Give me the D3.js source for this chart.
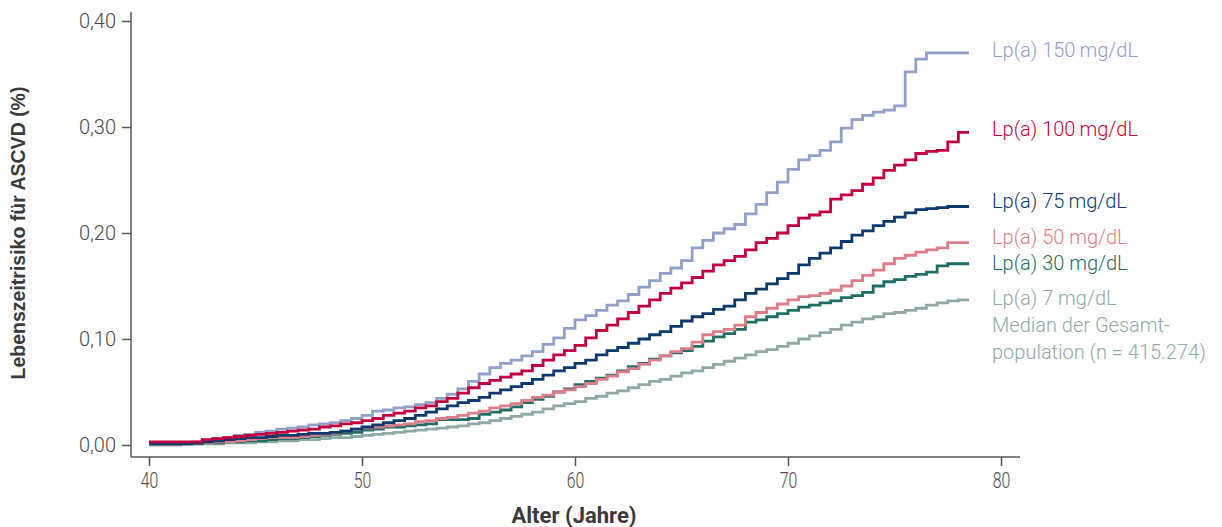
<!DOCTYPE html>
<html>
<head>
<meta charset="utf-8">
<script src="https://cdn.jsdelivr.net/npm/d3@7"></script>
<style>
	body { margin: 0; background: #fff; }
	.tick text { font-family: Roboto, sans-serif; font-weight: 300; fill: #4a4a4a; }
	.series_label { font-family: Roboto, sans-serif; font-weight: 300; font-size: 20px; }
</style>
</head>
<body>
<div id="chart"></div>
<script>
// ages (years), one value every half year
var ages = [
	40, 40.5, 41, 41.5, 42, 42.5, 43, 43.5, 44, 44.5, 45, 45.5, 46, 46.5, 47, 47.5, 48, 48.5, 49, 49.5,
	50, 50.5, 51, 51.5, 52, 52.5, 53, 53.5, 54, 54.5, 55, 55.5, 56, 56.5, 57, 57.5, 58, 58.5, 59, 59.5,
	60, 60.5, 61, 61.5, 62, 62.5, 63, 63.5, 64, 64.5, 65, 65.5, 66, 66.5, 67, 67.5, 68, 68.5, 69, 69.5,
	70, 70.5, 71, 71.5, 72, 72.5, 73, 73.5, 74, 74.5, 75, 75.5, 76, 76.5, 77, 77.5, 78, 78.5
];

// lifetime risk per Lp(a) level
var risk150 = [
	0.002, 0.002, 0.002, 0.002, 0.003, 0.004, 0.006, 0.007, 0.009, 0.010, 0.012, 0.013, 0.015, 0.016, 0.017, 0.019, 0.020, 0.021, 0.023, 0.025,
	0.028, 0.032, 0.033, 0.035, 0.036, 0.038, 0.040, 0.044, 0.048, 0.053, 0.060, 0.067, 0.073, 0.077, 0.080, 0.084, 0.088, 0.095, 0.101, 0.110,
	0.118, 0.122, 0.127, 0.132, 0.136, 0.142, 0.149, 0.155, 0.162, 0.167, 0.174, 0.186, 0.193, 0.200, 0.204, 0.208, 0.218, 0.227, 0.238, 0.248,
	0.260, 0.269, 0.273, 0.278, 0.286, 0.299, 0.307, 0.311, 0.314, 0.316, 0.320, 0.352, 0.364, 0.370, 0.370, 0.370, 0.370, 0.370
];
var risk100 = [
	0.003, 0.003, 0.003, 0.003, 0.003, 0.005, 0.006, 0.007, 0.008, 0.009, 0.010, 0.011, 0.012, 0.013, 0.014, 0.015, 0.017, 0.018, 0.020, 0.021,
	0.023, 0.025, 0.028, 0.030, 0.032, 0.035, 0.037, 0.041, 0.044, 0.049, 0.054, 0.058, 0.061, 0.064, 0.067, 0.070, 0.075, 0.080, 0.085, 0.089,
	0.094, 0.101, 0.108, 0.113, 0.119, 0.125, 0.131, 0.137, 0.143, 0.148, 0.153, 0.158, 0.164, 0.170, 0.174, 0.178, 0.184, 0.191, 0.195, 0.200,
	0.207, 0.214, 0.217, 0.220, 0.232, 0.236, 0.240, 0.246, 0.252, 0.259, 0.264, 0.269, 0.275, 0.277, 0.278, 0.286, 0.295, 0.295
];
var risk75 = [
	0.001, 0.001, 0.001, 0.001, 0.002, 0.003, 0.004, 0.005, 0.006, 0.007, 0.007, 0.008, 0.009, 0.009, 0.010, 0.011, 0.011, 0.012, 0.013, 0.015,
	0.017, 0.019, 0.021, 0.023, 0.025, 0.028, 0.031, 0.034, 0.037, 0.040, 0.042, 0.045, 0.049, 0.052, 0.055, 0.058, 0.062, 0.066, 0.070, 0.073,
	0.077, 0.080, 0.085, 0.089, 0.092, 0.096, 0.100, 0.104, 0.107, 0.112, 0.117, 0.121, 0.124, 0.128, 0.131, 0.137, 0.143, 0.147, 0.152, 0.157,
	0.162, 0.170, 0.176, 0.181, 0.186, 0.192, 0.198, 0.202, 0.207, 0.211, 0.215, 0.219, 0.222, 0.223, 0.224, 0.225, 0.225, 0.225
];
var risk50 = [
	0.001, 0.001, 0.001, 0.001, 0.002, 0.002, 0.003, 0.003, 0.004, 0.005, 0.006, 0.007, 0.007, 0.007, 0.008, 0.009, 0.010, 0.011, 0.013, 0.015,
	0.016, 0.017, 0.018, 0.019, 0.020, 0.022, 0.023, 0.025, 0.026, 0.028, 0.030, 0.032, 0.035, 0.037, 0.039, 0.042, 0.045, 0.047, 0.050, 0.052,
	0.055, 0.058, 0.062, 0.065, 0.069, 0.072, 0.076, 0.080, 0.084, 0.088, 0.091, 0.097, 0.104, 0.107, 0.109, 0.113, 0.121, 0.125, 0.129, 0.133,
	0.137, 0.140, 0.141, 0.143, 0.146, 0.150, 0.155, 0.160, 0.165, 0.171, 0.176, 0.179, 0.182, 0.184, 0.186, 0.191, 0.191, 0.191
];
var risk30 = [
	0.001, 0.001, 0.001, 0.001, 0.001, 0.002, 0.002, 0.003, 0.003, 0.004, 0.004, 0.005, 0.006, 0.006, 0.007, 0.008, 0.009, 0.010, 0.011, 0.012,
	0.014, 0.015, 0.017, 0.017, 0.018, 0.019, 0.020, 0.024, 0.024, 0.024, 0.025, 0.029, 0.031, 0.033, 0.036, 0.040, 0.043, 0.046, 0.050, 0.053,
	0.057, 0.060, 0.063, 0.066, 0.070, 0.074, 0.077, 0.081, 0.084, 0.087, 0.089, 0.093, 0.098, 0.102, 0.105, 0.109, 0.116, 0.118, 0.121, 0.124,
	0.127, 0.130, 0.132, 0.134, 0.136, 0.139, 0.141, 0.144, 0.150, 0.154, 0.156, 0.159, 0.161, 0.163, 0.169, 0.171, 0.171, 0.171
];
var risk7 = [
	0.000, 0.000, 0.000, 0.001, 0.001, 0.001, 0.001, 0.002, 0.002, 0.002, 0.003, 0.003, 0.004, 0.004, 0.005, 0.005, 0.006, 0.007, 0.007, 0.008,
	0.009, 0.010, 0.011, 0.012, 0.013, 0.014, 0.015, 0.016, 0.017, 0.018, 0.020, 0.021, 0.023, 0.025, 0.027, 0.029, 0.031, 0.034, 0.037, 0.039,
	0.041, 0.044, 0.046, 0.049, 0.051, 0.054, 0.057, 0.060, 0.062, 0.065, 0.068, 0.070, 0.073, 0.076, 0.079, 0.082, 0.085, 0.088, 0.090, 0.093,
	0.096, 0.100, 0.103, 0.106, 0.109, 0.113, 0.116, 0.119, 0.121, 0.124, 0.125, 0.127, 0.129, 0.132, 0.134, 0.136, 0.137, 0.137
];

// legend texts (one array of lines per series)
var labels150 = ["Lp(a) 150\u2009mg/dL"];
var labels100 = ["Lp(a) 100\u2009mg/dL"];
var labels75 = ["Lp(a) 75\u2009mg/dL"];
var labels50 = ["Lp(a) 50 mg/dL"];
var labels30 = ["Lp(a) 30 mg/dL"];
var labels7 = ["Lp(a) 7 mg/dL", "Median der Gesamt-", "population (n = 415.274)"];

var xTicks = [40, 50, 60, 70, 80];
var yTicks = [0, 0.1, 0.2, 0.3, 0.4];

// Setting height and width
var size = { width: 1222, height: 527 };

// scales
var xScale = d3.scaleLinear()
	.domain([40, 80])
	.range([149, 1001]);

var yScale = d3.scaleLinear()
	.domain([0, 0.4])
	.range([445, 21]);

// series, drawn bottom to top
var series = [
	{ values: risk7, color: "#8eaaa6", labels: labels7, dy: 5 },
	{ values: risk30, color: "#1f6d66", labels: labels30, dy: 6 },
	{ values: risk50, color: "#df7d86", labels: labels50, dy: 1 },
	{ values: risk150, color: "#8fa0c9", labels: labels150, dy: 4 },
	{ values: risk75, color: "#0d3a6c", labels: labels75, dy: 1 },
	{ values: risk100, color: "#c3003f", labels: labels100, dy: 4 }
];

// container
var svg = d3.select("#chart").append("svg")
	.attr("width", size.width)
	.attr("height", size.height);

// axis lines
svg.append("line")
	.attr("x1", 131).attr("x2", 131)
	.attr("y1", 12).attr("y2", 457)
	.attr("stroke", "#555").attr("stroke-width", 1.5);

svg.append("line")
	.attr("x1", 131).attr("x2", 1020)
	.attr("y1", 457).attr("y2", 457)
	.attr("stroke", "#555").attr("stroke-width", 1.5);

// x axis
var x_axis = d3.axisBottom(xScale)
	.tickValues(xTicks)
	.tickSize(9)
	.tickPadding(6)
	.tickFormat(d3.format("d"));

var gx = svg.append("g")
	.attr("transform", "translate(0, 457)")
	.call(x_axis);
gx.select(".domain").remove();
gx.selectAll("line").attr("stroke", "#555").attr("stroke-width", 1.5);
// condensed look of the x tick labels
gx.selectAll("text")
	.style("font-size", "22px")
	.attr("transform", "scale(0.72, 1)");

// y axis
var y_axis = d3.axisLeft(yScale)
	.tickValues(yTicks)
	.tickSize(9)
	.tickPadding(6)
	.tickFormat(function(d) { return d3.format(".2f")(d).replace(".", ","); });

var gy = svg.append("g")
	.attr("transform", "translate(131, 0)")
	.call(y_axis);
gy.select(".domain").remove();
gy.selectAll("line").attr("stroke", "#555").attr("stroke-width", 1.5);
gy.selectAll("text").style("font-size", "20px");

// axis titles
svg.append("text")
	.attr("x", 574)
	.attr("y", 523)
	.attr("text-anchor", "middle")
	.style("font-family", "'Liberation Sans Narrow', 'Roboto', sans-serif")
	.style("font-weight", "bold")
	.style("font-size", "22px")
	.style("fill", "#3a3a3a")
	.text("Alter (Jahre)");

svg.append("text")
	.attr("transform", "translate(25, 233) rotate(-90)")
	.attr("text-anchor", "middle")
	.style("font-family", "'Liberation Sans', Arial, sans-serif")
	.style("font-weight", "bold")
	.style("font-size", "19.5px")
	.style("fill", "#3a3a3a")
	.text("Lebenszeitrisiko für ASCVD (%)");

// step lines
var line = d3.line()
	.x(function(d, i) { return xScale(ages[i]); })
	.y(function(d) { return yScale(d); })
	.curve(d3.curveStepAfter);

series.forEach(function(s) {
	svg.append("path")
		.datum(s.values)
		.attr("fill", "none")
		.attr("stroke", s.color)
		.attr("stroke-width", 2.8)
		.attr("d", line);

	// label at the end of the line
	var last = s.values[s.values.length - 1];
	var label = svg.append("text")
		.attr("class", "series_label")
		.attr("x", 992)
		.attr("y", yScale(last) + s.dy)
		.style("fill", s.color);

	s.labels.forEach(function(t, i) {
		label.append("tspan")
			.attr("x", 992)
			.attr("dy", i == 0 ? 0 : 27)
			.text(t);
	});
});
</script>
</body>
</html>
